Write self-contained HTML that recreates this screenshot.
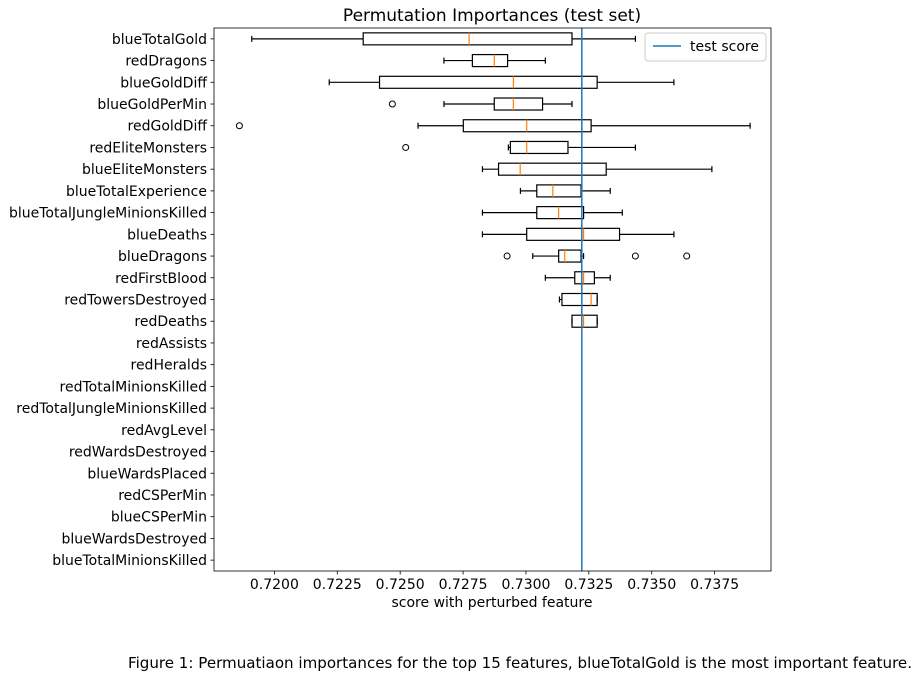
<!DOCTYPE html>
<html><head><meta charset="utf-8">
<style>
html,body{margin:0;padding:0;background:#fff;}
svg{display:block;font-family:"DejaVu Sans","Liberation Sans",sans-serif;}
</style></head>
<body>
<svg id="chart" width="918" height="678" viewBox="0 0 918 678">
<text x="492" y="21" text-anchor="middle" font-size="17" fill="#000">Permutation Importances (test set)</text>
<text x="492" y="607" text-anchor="middle" font-size="14" fill="#000">score with perturbed feature</text>
<text x="128" y="668" font-size="15" fill="#000" textLength="784" lengthAdjust="spacingAndGlyphs">Figure 1: Permuatiaon importances for the top 15 features, blueTotalGold is the most important feature.</text>
<g id="plot"></g>
</svg>
<script>
const categories = ["blueTotalGold","redDragons","blueGoldDiff","blueGoldPerMin","redGoldDiff","redEliteMonsters","blueEliteMonsters","blueTotalExperience","blueTotalJungleMinionsKilled","blueDeaths","blueDragons","redFirstBlood","redTowersDestroyed","redDeaths","redAssists","redHeralds","redTotalMinionsKilled","redTotalJungleMinionsKilled","redAvgLevel","redWardsDestroyed","blueWardsPlaced","redCSPerMin","blueCSPerMin","blueWardsDestroyed","blueTotalMinionsKilled"];
// [whiskerLow, q1, median, q3, whiskerHigh]
const boxStats = [
 [0.71910,0.72353,0.72774,0.73183,0.73435],
 [0.72674,0.72787,0.72874,0.72927,0.73077],
 [0.72218,0.72418,0.72950,0.73283,0.73588],
 [0.72674,0.72874,0.72950,0.73066,0.73183],
 [0.72571,0.72751,0.73003,0.73259,0.73891],
 [0.72930,0.72938,0.73003,0.73167,0.73435],
 [0.72827,0.72891,0.72977,0.73319,0.73739],
 [0.72978,0.73043,0.73107,0.73219,0.73335],
 [0.72827,0.73043,0.73130,0.73229,0.73383],
 [0.72827,0.73003,0.73229,0.73372,0.73588],
 [0.73027,0.73130,0.73154,0.73219,0.73229],
 [0.73077,0.73194,0.73229,0.73272,0.73335],
 [0.73133,0.73143,0.73259,0.73283,0.73283],
 [0.73183,0.73183,0.73229,0.73283,0.73283]
];
const outliers = [[],[],[],[0.72469],[0.71861],[0.72522],[],[],[],[],[0.72925,0.73435,0.73639],[],[],[]];
const xTicks = [0.7200,0.7225,0.7250,0.7275,0.7300,0.7325,0.7350,0.7375];
const testScore = 0.73222;
const xMin = 0.71760, xMax = 0.73974;

const L=214, R=771, T=28, B=571;
const NS="http://www.w3.org/2000/svg";
const g=document.getElementById('plot');
const x=v=>L+(v-xMin)/(xMax-xMin)*(R-L);
const rowH=(B-T)/categories.length;
const y=i=>T+rowH*(i+0.5);
function mk(tag,attrs,parent){const e=document.createElementNS(NS,tag);for(const k in attrs)e.setAttribute(k,attrs[k]);(parent||g).appendChild(e);return e;}

categories.forEach((c,i)=>{
  const t=mk('text',{x:L-7,y:y(i)+5,'text-anchor':'end','font-size':14,fill:'#000'});
  t.textContent=c;
  
  
  const tk=mk('line',{x1:L-3.5,x2:L,y1:y(i),y2:y(i),stroke:'#000','stroke-width':0.8});
  
  
});
xTicks.forEach(v=>{
  const tk=mk('line',{x1:x(v),x2:x(v),y1:B,y2:B+3.5,stroke:'#000','stroke-width':0.8});
  
  
  const t=mk('text',{x:x(v),y:B+18,'text-anchor':'middle','font-size':14,fill:'#000'});
  t.textContent=v.toFixed(4);
  
  
});

const bh=12;
boxStats.forEach((s,i)=>{
  const cy=y(i);
  const grp=mk('g',{});
  
  
  const ls={stroke:'#000','stroke-width':1.2,fill:'none'};
  mk('line',Object.assign({x1:x(s[0]),x2:x(s[1]),y1:cy,y2:cy},ls),grp);
  mk('line',Object.assign({x1:x(s[3]),x2:x(s[4]),y1:cy,y2:cy},ls),grp);
  mk('line',Object.assign({x1:x(s[0]),x2:x(s[0]),y1:cy-3,y2:cy+3},ls),grp);
  mk('line',Object.assign({x1:x(s[4]),x2:x(s[4]),y1:cy-3,y2:cy+3},ls),grp);
  mk('rect',Object.assign({x:x(s[1]),y:cy-bh/2,width:Math.max(0.5,x(s[3])-x(s[1])),height:bh},ls),grp);
  mk('line',{x1:x(s[2]),x2:x(s[2]),y1:cy-bh/2,y2:cy+bh/2,stroke:'#ff7f0e','stroke-width':1.2},grp);
  outliers[i].forEach(o=>{
    const c=mk('circle',{cx:x(o),cy:cy,r:3,fill:'none',stroke:'#000','stroke-width':1},grp);
    
    
  });
});

const tl=mk('line',{x1:x(testScore),x2:x(testScore),y1:T,y2:B,stroke:'#1f77b4','stroke-width':1.5});



const fr=mk('rect',{x:L,y:T,width:R-L,height:B-T,fill:'none',stroke:'#000','stroke-width':0.8});



const lg=mk('g',{});


mk('rect',{x:645,y:33,width:121,height:28,rx:3,fill:'#fff',stroke:'#ccc','stroke-width':1},lg);
mk('line',{x1:653,x2:681,y1:46,y2:46,stroke:'#1f77b4','stroke-width':1.5},lg);
const lt=mk('text',{x:690,y:51,'font-size':14,fill:'#000'},lg);
lt.textContent='test score';


</script>
</body></html>
